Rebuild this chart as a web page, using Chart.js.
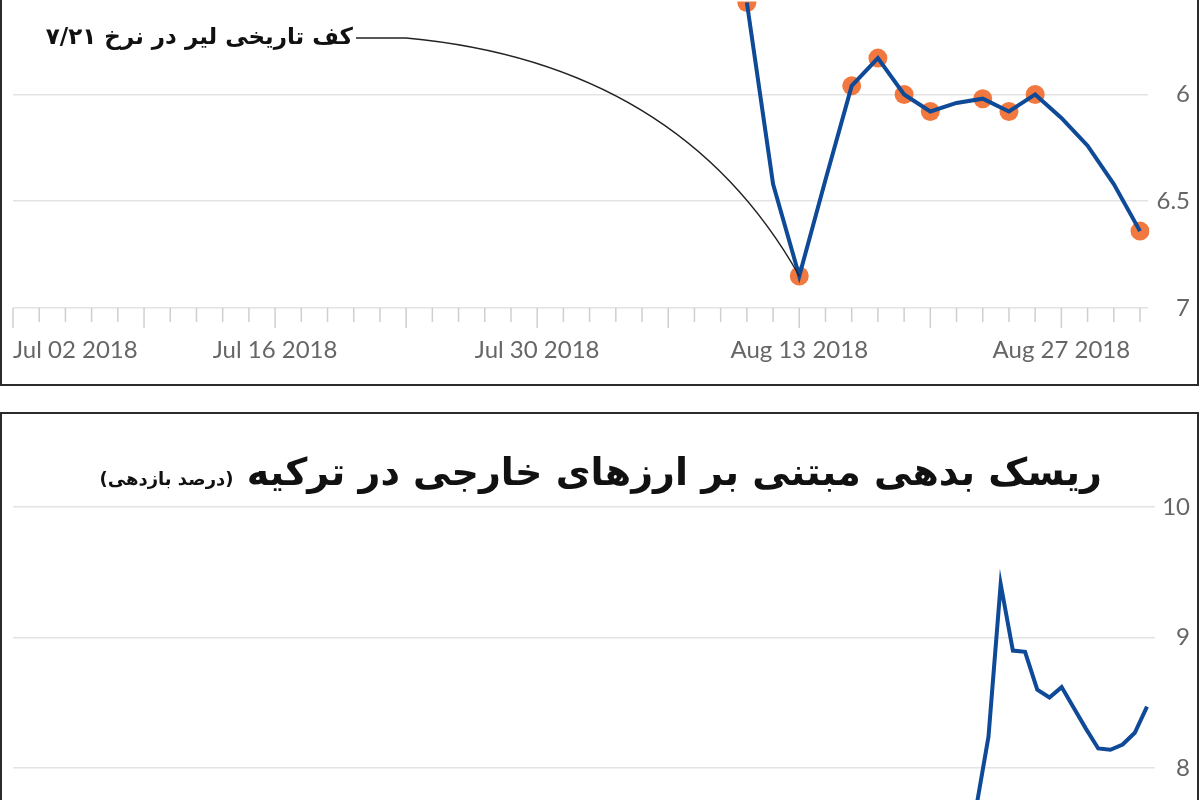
<!DOCTYPE html>
<html>
<head>
<meta charset="utf-8">
<script src="https://cdn.jsdelivr.net/npm/chart.js@4.4.0/dist/chart.umd.min.js"></script>
<style>
html, body { margin:0; padding:0; background:#fff; overflow:hidden; width:1200px; height:800px; }
.box { position:absolute; left:0; width:1195px; border:2px solid #2b2b2b; }
#box1 { top:-6px; height:388px; }
#box2 { top:412px; height:420px; }
.wrap { position:absolute; left:0; width:1200px; }
#wrap1 { top:-8px; height:392px; }
#wrap2 { top:413px; height:387px; }
#title { position:absolute; top:448px; right:98px; direction:rtl; font-family:'DejaVu Sans'; font-weight:bold;
         font-size:38px; line-height:48px; color:#111; white-space:nowrap; }
#title span { font-size:18px; font-weight:bold; }
</style>
</head>
<body>
<div class="box" id="box1"></div>
<div class="box" id="box2"></div>
<div class="wrap" id="wrap1"><canvas id="topChart"></canvas></div>
<div class="wrap" id="wrap2"><canvas id="bottomChart"></canvas></div>
<div id="title">ریسک بدهی مبتنی بر ارزهای خارجی در ترکیه <span>(درصد بازدهی)</span></div>

<script>
// lira rate (inverted axis), top panel
var topDates = ['Aug 09 2018','Aug 10 2018','Aug 13 2018','Aug 14 2018','Aug 15 2018','Aug 16 2018','Aug 17 2018','Aug 20 2018',
                'Aug 21 2018','Aug 22 2018','Aug 23 2018','Aug 24 2018','Aug 27 2018','Aug 28 2018','Aug 29 2018','Aug 30 2018'];
var topValues = [5.57, 6.42, 6.85, 6.40, 5.96, 5.83, 6.00, 6.08, 6.04, 6.02, 6.08, 6.00, 6.11, 6.24, 6.42, 6.64];
var markerDates = ['Aug 09 2018','Aug 13 2018','Aug 15 2018','Aug 16 2018','Aug 17 2018','Aug 20 2018',
                   'Aug 22 2018','Aug 23 2018','Aug 24 2018','Aug 30 2018'];
var topTickLabels = ['Jul 02 2018','Jul 16 2018','Jul 30 2018','Aug 13 2018','Aug 27 2018'];
var topTicks = [6, 6.5, 7];
var lowDate = 'Aug 13 2018';
var noteText = 'کف تاریخی لیر در نرخ ۷/۲۱';

// foreign currency debt yield, bottom panel
var bottomDates = ['Aug 10 2018','Aug 13 2018','Aug 14 2018','Aug 15 2018','Aug 16 2018','Aug 17 2018','Aug 20 2018','Aug 21 2018',
                   'Aug 22 2018','Aug 23 2018','Aug 24 2018','Aug 27 2018','Aug 28 2018','Aug 29 2018','Aug 30 2018'];
var bottomValues = [7.70, 8.24, 9.41, 8.90, 8.89, 8.60, 8.54, 8.62, 8.46, 8.30, 8.15, 8.14, 8.18, 8.27, 8.47];
var bottomTicks = [8, 9, 10];

var months = ['Jan','Feb','Mar','Apr','May','Jun','Jul','Aug','Sep','Oct','Nov','Dec'];
function businessDays(from, to) {
    var out = [], d = new Date(from + 'T12:00:00Z'), end = new Date(to + 'T12:00:00Z');
    while (d <= end) {
        var wd = d.getUTCDay();
        if (wd > 0 && wd < 6) out.push(months[d.getUTCMonth()] + ' ' + String(d.getUTCDate()).padStart(2, '0') + ' ' + d.getUTCFullYear());
        d.setUTCDate(d.getUTCDate() + 1);
    }
    return out;
}
var topLabels = businessDays('2018-07-02', '2018-08-30');
var bottomLabels = businessDays('2018-04-23', '2018-08-30');

var blue = '#0e4a97';
var orange = 'rgba(240,106,42,0.9)';
var gridColor = '#e3e3e3';
var tickFont = { family: 'Lato', size: 24 };

function pairs(dates, values) {
    return dates.map(function(d, i) { return { x: d, y: values[i] }; });
}

var topDecor = {
    id: 'topDecor',
    afterDraw: function(chart) {
        var ctx = chart.ctx, xs = chart.scales.x, ys = chart.scales.y, base = chart.chartArea.bottom;
        var off = 8; // canvas sits 8px above the page top
        ctx.save();
        ctx.strokeStyle = '#cfcfcf';
        ctx.lineWidth = 1.5;
        topLabels.forEach(function(lab, i) {
            var px = xs.getPixelForValue(i);
            var monday = new Date(lab).getDay() === 1;
            ctx.beginPath();
            ctx.moveTo(px, base);
            ctx.lineTo(px, base + (monday ? 20 : 14));
            ctx.stroke();
        });
        // note pointing at the low
        var lx = xs.getPixelForValue(topLabels.indexOf(lowDate));
        var ly = ys.getPixelForValue(topValues[topDates.indexOf(lowDate)]);
        ctx.strokeStyle = '#222';
        ctx.lineWidth = 1.3;
        ctx.beginPath();
        ctx.moveTo(356, 38 + off);
        ctx.lineTo(406, 38 + off);
        ctx.quadraticCurveTo(lx - 120, 63 + off, lx, ly);
        ctx.stroke();
        ctx.direction = 'rtl';
        ctx.textAlign = 'right';
        ctx.textBaseline = 'middle';
        ctx.fillStyle = '#111';
        ctx.font = 'bold 23px "DejaVu Sans"';
        ctx.fillText(noteText, 353, 38 + off);
        ctx.restore();
    }
};

new Chart(document.getElementById('topChart'), {
    type: 'line',
    data: {
        labels: topLabels,
        datasets: [{
            data: pairs(topDates, topValues),
            borderColor: blue,
            borderWidth: 4,
            pointRadius: 0,
            tension: 0,
            order: 0
        }, {
            data: pairs(markerDates, markerDates.map(function(d) { return topValues[topDates.indexOf(d)]; })),
            showLine: false,
            pointRadius: 9.5,
            pointBackgroundColor: orange,
            pointBorderWidth: 0,
            order: 1
        }]
    },
    options: {
        responsive: true,
        maintainAspectRatio: false,
        animation: false,
        events: [],
        layout: { padding: { left: 13, right: 10, top: 0, bottom: 0 } },
        plugins: { legend: { display: false }, tooltip: { enabled: false } },
        scales: {
            x: {
                grid: { drawOnChartArea: false, drawTicks: true, tickLength: 20, tickColor: 'rgba(0,0,0,0)' },
                border: { display: false },
                ticks: {
                    autoSkip: false, maxRotation: 0, align: 'inner', padding: 8,
                    color: '#666', font: tickFont,
                    callback: function(v, i) { var l = topLabels[i]; return topTickLabels.indexOf(l) >= 0 ? l : ''; }
                },
                afterFit: function(s) { s.height = 76; s.paddingLeft = 0; s.paddingRight = 0; }
            },
            y: {
                position: 'right',
                reverse: true,
                min: 5.565,
                max: 7,
                afterBuildTicks: function(s) { s.ticks = topTicks.map(function(v) { return { value: v }; }); },
                grid: { color: gridColor, lineWidth: 1.5, drawTicks: true, tickLength: 8 },
                border: { display: false },
                ticks: { crossAlign: 'far', color: '#666', font: tickFont, padding: 4,
                         callback: function(v) { return String(v); } },
                afterFit: function(s) { s.width = 50; s.paddingTop = 0; s.paddingBottom = 0; }
            }
        }
    },
    plugins: [topDecor]
});

new Chart(document.getElementById('bottomChart'), {
    type: 'line',
    data: {
        labels: bottomLabels,
        datasets: [{
            data: pairs(bottomDates, bottomValues),
            borderColor: blue,
            borderWidth: 4,
            pointRadius: 0,
            tension: 0
        }]
    },
    options: {
        responsive: true,
        maintainAspectRatio: false,
        animation: false,
        events: [],
        layout: { padding: { left: 13, right: 10, top: 94, bottom: 0 } },
        plugins: { legend: { display: false }, tooltip: { enabled: false } },
        scales: {
            x: { display: false },
            y: {
                position: 'right',
                min: 7.755,
                max: 10,
                afterBuildTicks: function(s) { s.ticks = bottomTicks.map(function(v) { return { value: v }; }); },
                grid: { color: gridColor, lineWidth: 1.5, drawTicks: true, tickLength: 8 },
                border: { display: false },
                ticks: { crossAlign: 'far', color: '#666', font: tickFont, padding: 4 },
                afterFit: function(s) { s.width = 43; s.paddingTop = 0; s.paddingBottom = 0; }
            }
        }
    }
});
</script>
</body>
</html>
